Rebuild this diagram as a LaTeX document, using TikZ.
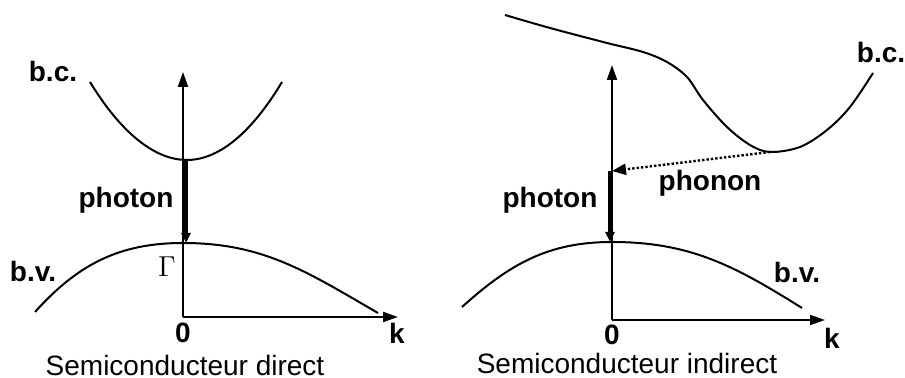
\documentclass[tikz,border=0pt]{standalone}
\usepackage{fontspec}
\setmainfont{Liberation Sans}
\usetikzlibrary{arrows.meta, positioning}

\begin{document}
\begin{tikzpicture}[
    x=0.5pt, y=0.5pt,
    every node/.style={font=\fontsize{14}{16}\selectfont\bfseries, inner sep=1pt},
    caption/.style={font=\fontsize{14}{16}\selectfont, inner sep=0pt},
    band/.style={line width=1pt},
    axis/.style={line width=1pt,-{Triangle[length=7.5pt,width=5pt]}},
    photonarrow/.style={line width=2pt,-{Triangle[length=5pt,width=4.5pt]}},
    phononarrow/.style={line width=1.2pt,densely dotted,-{Triangle[length=7pt,width=5.5pt]}}
]
\useasboundingbox (0,0) rectangle (905,378);

% semiconducteur direct
\coordinate (o1) at (183,61);
\coordinate (e1) at (183,306);
\coordinate (k1) at (398,61);
\coordinate (cmin1) at (186,218);
\coordinate (vmax1) at (186,135);

\draw [axis] (o1) -- (e1);
\draw [axis] (o1) -- (k1);
\draw [band] (90,296) parabola bend (187,218) (282,296);
\draw [band] (35,66) to[out=48,in=180] (183,135) to[out=0,in=150] (378,65);
\draw [photonarrow] (cmin1) -- (vmax1);

\node (bc1) at (53,306) {b.c.};
\node (bv1) at (33,106) {b.v.};
\node (photon1) at (126,178) {photon};
\node (gamma) at (167,111) {$\Gamma$};
\node (zero1) at (183,45) {0};
\node (klabel1) at (397,45) {k};
\node (direct) [caption] at (185,13) {Semiconducteur direct};

% semiconducteur indirect
\coordinate (o2) at (612,58);
\coordinate (e2) at (612,313);
\coordinate (k2) at (825,58);
\coordinate (cmin2) at (770,226);
\coordinate (mid2) at (612,207);
\coordinate (top2) at (610,207);
\coordinate (vmax2) at (610,136);

\draw [axis] (o2) -- (e2);
\draw [axis] (o2) -- (k2);
\draw [band] plot[smooth, tension=0.55] coordinates {(505,363) (550,350) (607,335) (643,326) (667,316) (687,301) (703,278) (727,251) (750,233) (770,226) (800,231) (827,248) (850,271) (873,305)};
\draw [band] (462,71) to[out=42,in=180] (612,136) to[out=0,in=148] (802,70);
\draw [phononarrow] (cmin2) -- (mid2);
\draw [photonarrow] (top2) -- (vmax2);

\node (bc2) at (881,325) {b.c.};
\node (bv2) at (797,105) {b.v.};
\node (phonon) at (710,195) {phonon};
\node (photon2) at (550,178) {photon};
\node (zero2) at (612,43) {0};
\node (klabel2) at (832,40) {k};
\node (indirect) [caption] at (627,14) {Semiconducteur indirect};

\end{tikzpicture}
\end{document}
